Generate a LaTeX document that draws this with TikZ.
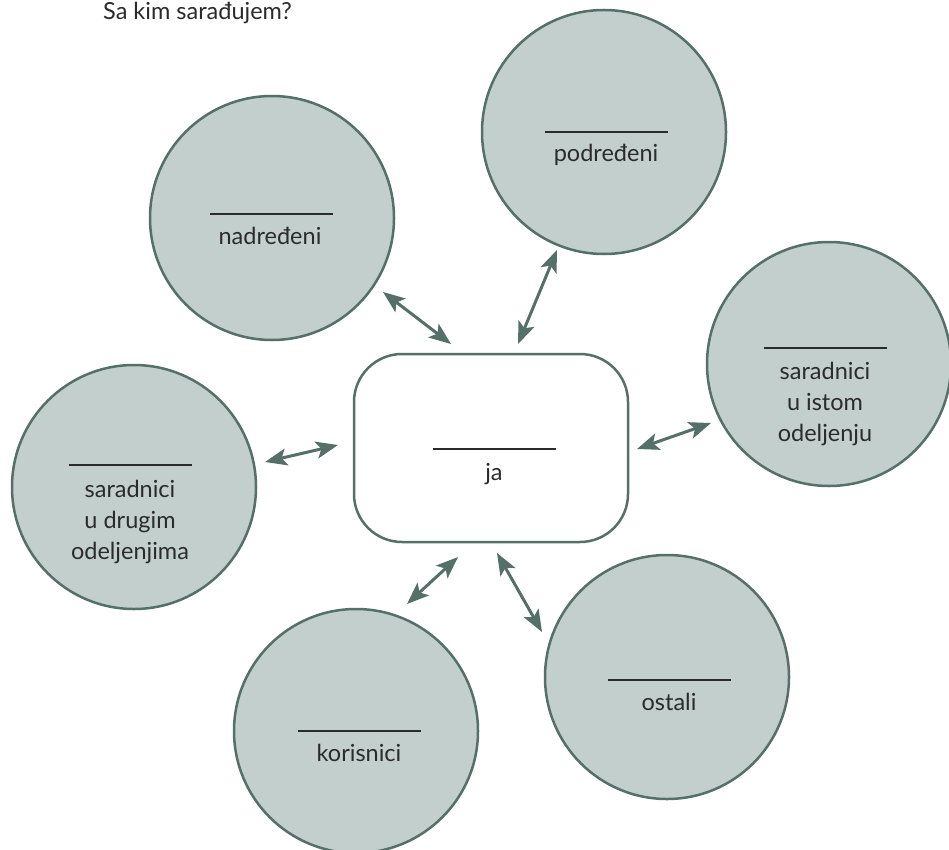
\documentclass[tikz,border=0pt]{standalone}
\usepackage{fontspec}
\setmainfont{Lato}
\usetikzlibrary{arrows.meta}
\definecolor{fillc}{HTML}{C2CFCC}
\definecolor{edgec}{HTML}{557068}
\definecolor{txtc}{HTML}{2B2B2B}
\begin{document}
\begin{tikzpicture}[x=1pt,y=-1pt,
  bubble/.style={circle, draw=edgec, fill=fillc, line width=2.5pt, minimum size=244pt, inner sep=0pt},
  jabox/.style={rectangle, rounded corners=48pt, draw=edgec, fill=white, line width=2.5pt, minimum width=274pt, minimum height=188pt},
  blank/.style={draw=txtc, line width=1.5pt},
  lbl/.style={font=\fontsize{23.5}{31}\selectfont, text=txtc, align=center, anchor=base, inner sep=0pt},
  link/.style={draw=edgec, line width=3pt, arrows={Stealth[length=22pt,width=17pt,inset=5pt]-Stealth[length=22pt,width=17pt,inset=5pt]}}]
\useasboundingbox (0,0) rectangle (949,850);

% title
\node[lbl, anchor=base west] (title) at (103,20) {Sa kim sarađujem?};

% bubbles
\node[bubble] (nad) at (272,218) {};
\node[bubble] (pod) at (604,132) {};
\node[bubble] (ist) at (829,364) {};
\node[bubble] (dru) at (134,487) {};
\node[bubble] (kor) at (356,731) {};
\node[bubble] (ost) at (667,677) {};
\node[jabox] (ja) at (491,448) {};

% blanks and labels (multi-line labels: base = last line)
\draw[blank] (209.5,214) -- ++(123,0);
\node[lbl] (tnad) at (270,244) {nadređeni};
\draw[blank] (544.5,132) -- ++(123,0);
\node[lbl] (tpod) at (606,162) {podređeni};
\draw[blank] (763.5,348) -- ++(123,0);
\node[lbl] (tist) at (825,441) {saradnici\\u istom\\odeljenju};
\draw[blank] (68.5,465) -- ++(123,0);
\node[lbl] (tdru) at (130,559) {saradnici\\u drugim\\odeljenjima};
\draw[blank] (297.5,731) -- ++(123,0);
\node[lbl] (tkor) at (359,761) {korisnici};
\draw[blank] (607.5,680) -- ++(123,0);
\node[lbl] (tost) at (669,710) {ostali};
\draw[blank] (432.5,449) -- ++(123,0);
\node[lbl] (tja) at (494,480) {ja};

% arrow ends
\coordinate (a1) at (383,292); \coordinate (b1) at (451,344);
\coordinate (a2) at (557,250); \coordinate (b2) at (518,344);
\coordinate (a3) at (711,423); \coordinate (b3) at (637,449);
\coordinate (a4) at (265,462); \coordinate (b4) at (338,445);
\coordinate (a5) at (407,604); \coordinate (b5) at (458,557);
\coordinate (a6) at (542,632); \coordinate (b6) at (497,553);

\draw[link] (a1) -- (b1);
\draw[link] (a2) -- (b2);
\draw[link] (a3) -- (b3);
\draw[link] (a4) -- (b4);
\draw[link] (a5) -- (b5);
\draw[link] (a6) -- (b6);
\end{tikzpicture}
\end{document}
